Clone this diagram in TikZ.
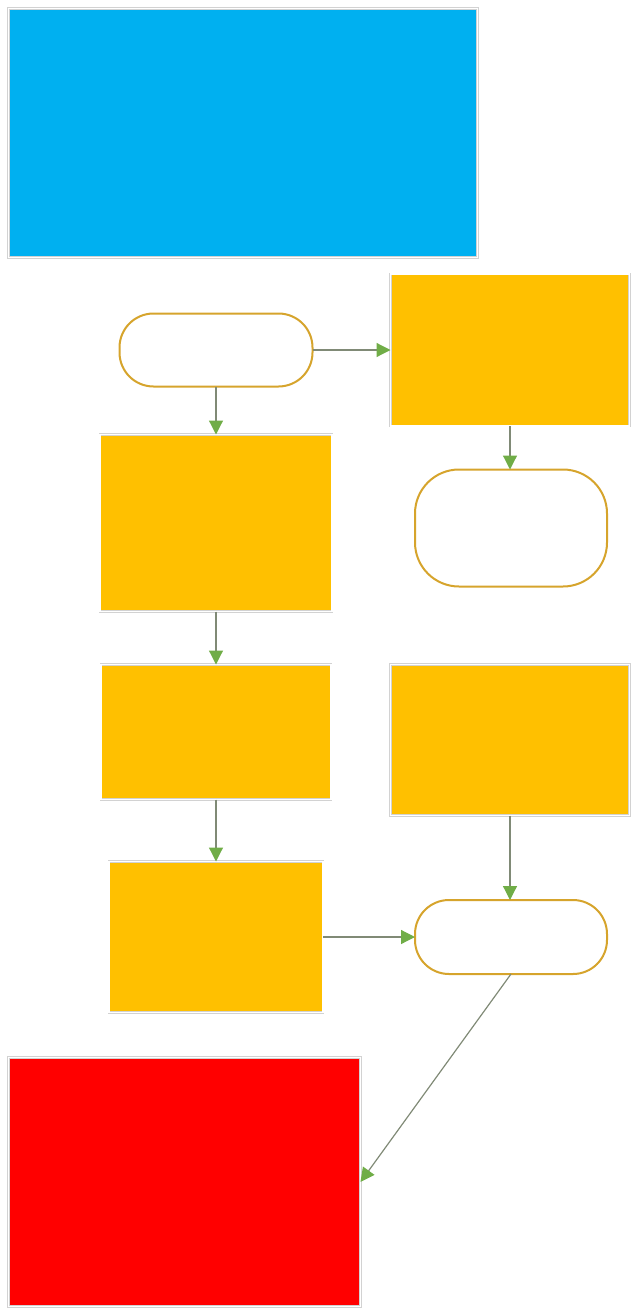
\documentclass[tikz,border=0pt]{standalone}
\usetikzlibrary{arrows.meta}
\definecolor{skyblue}{RGB}{0,176,240}
\definecolor{amber}{RGB}{255,192,0}
\definecolor{alarmred}{RGB}{255,0,0}
\definecolor{goldline}{RGB}{214,164,44}
\definecolor{tipgreen}{RGB}{112,173,71}
\definecolor{linkgray}{RGB}{128,138,118}
\tikzstyle{every node}=[inner sep=0pt,outer sep=0pt]
\tikzstyle{block}=[rectangle,draw=gray!35,double=white,double distance=1.4pt,line width=0.6pt]
\tikzstyle{terminal}=[rectangle,rounded corners=34pt,draw=goldline,fill=white,line width=2pt]
\tikzstyle{link}=[draw=linkgray,line width=1.2pt,-{Triangle[length=14pt,width=14pt,color=tipgreen,fill=tipgreen]}]
\begin{document}
\begin{tikzpicture}[x=1pt,y=-1pt]
  \useasboundingbox (0,0) rectangle (634,1309);
  \node [block,fill=skyblue,minimum width=469pt,minimum height=249pt] (title) at (243,133) {};
  \node [terminal,minimum width=193pt,minimum height=73pt] (start) at (216,350) {};
  \node [block,fill=amber,minimum width=239pt,minimum height=152pt] (side) at (510,350) {};
  \node [terminal,minimum width=192pt,minimum height=117pt,rounded corners=44pt] (stop) at (511,528) {};
  \node [block,fill=amber,minimum width=232pt,minimum height=177pt] (first) at (216,523) {};
  \node [block,fill=amber,minimum width=230pt,minimum height=135pt] (second) at (216,732) {};
  \node [block,fill=amber,minimum width=239pt,minimum height=151pt] (input) at (510,740) {};
  \node [block,fill=amber,minimum width=214pt,minimum height=151pt] (third) at (216,937) {};
  \node [terminal,minimum width=192pt,minimum height=74pt] (merge) at (511,937) {};
  \node [block,fill=alarmred,minimum width=352pt,minimum height=249pt] (alarm) at (184.5,1182) {};
  % connectors
  \draw [link] (start.east) -- (side.west |- start.east);
  \draw [link] (start.south) -- (first.north);
  \draw [link] (side.south) -- (stop.north -| side.south);
  \draw [link] (first.south) -- (second.north);
  \draw [link] (second.south) -- (third.north);
  \draw [link] (input.south) -- (merge.north -| input.south);
  \draw [link] (third.east) -- (merge.west);
  \draw [link] (merge.south) -- (alarm.east);
\end{tikzpicture}
\end{document}
